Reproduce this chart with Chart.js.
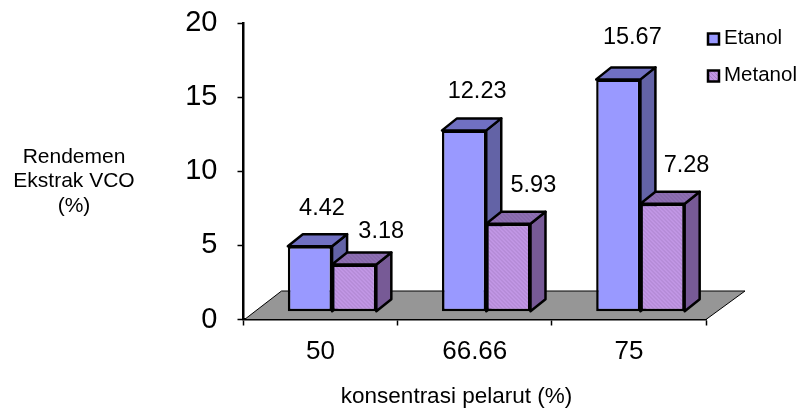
<!DOCTYPE html>
<html>
<head>
<meta charset="utf-8">
<style>
  html, body { margin: 0; padding: 0; background: #fff; }
  canvas { display: block; }
</style>
<script src="https://cdn.jsdelivr.net/npm/chart.js@4"></script>
</head>
<body>
<canvas id="chart" width="799" height="410"></canvas>
<script>
const categories = ['50', '66.66', '75'];
const etanolValues = [4.42, 12.23, 15.67];
const metanolValues = [3.18, 5.93, 7.28];
const yAxisTitle = ['Rendemen', 'Ekstrak VCO', '(%)'];
const xAxisTitle = 'konsentrasi pelarut (%)';

const FONT = '"Liberation Sans", Arial, sans-serif';

// Diagonal hatch used on the Metanol faces.
function hatch(base, stripe) {
  const c = document.createElement('canvas');
  c.width = c.height = 4;
  const g = c.getContext('2d');
  g.fillStyle = base;
  g.fillRect(0, 0, 4, 4);
  g.strokeStyle = stripe;
  g.lineWidth = 1;
  g.beginPath();
  g.moveTo(-1, 1); g.lineTo(3, 5);
  g.moveTo(1, -1); g.lineTo(5, 3);
  g.stroke();
  return g.createPattern(c, 'repeat');
}

const metanolFront = hatch('#C297E6', '#A87FC8');
const metanolTop = hatch('#8F70B4', '#7C5F9E');

// Extruded faces: the front rectangle sits in the middle of the floor's depth.
const shift = { x: 11.5, y: -7.8 };
const depth = { x: 15, y: -12 };
const faces = [
  { side: '#6363A6', top: '#7070C2' },
  { side: '#775A96', top: metanolTop }
];
// Data label placement relative to the top centre of each front face.
const labelOffsets = [
  [[12, -38], [13, -39], [14, -42]],
  [[27, -33], [25, -38], [24, -38]]
];

function poly(ctx, pts, fill) {
  ctx.beginPath();
  pts.forEach((p, i) => i ? ctx.lineTo(p[0], p[1]) : ctx.moveTo(p[0], p[1]));
  ctx.closePath();
  ctx.fillStyle = fill;
  ctx.fill();
  ctx.stroke();
}

const bars3d = {
  id: 'bars3d',
  beforeDatasetsDraw(chart) {
    const { ctx, chartArea: a } = chart;
    ctx.save();
    ctx.strokeStyle = '#000';
    ctx.lineWidth = 1;
    const back = a.bottom - 28.5;
    poly(ctx, [[a.left + 1, a.bottom], [a.left + 38, back], [a.right + 39, back], [a.right, a.bottom]], '#969696');

    // Side and top faces, Etanol first so Metanol overlaps its side wall.
    ctx.lineWidth = 2.5;
    ctx.lineJoin = 'round';
    ctx.translate(shift.x, shift.y);
    chart.data.datasets.forEach((ds, i) => {
      const f = faces[i];
      chart.getDatasetMeta(i).data.forEach(el => {
        const { x, y, width, base } = el.getProps(['x', 'y', 'width', 'base'], true);
        const l = x - width / 2, r = x + width / 2;
        poly(ctx, [[r, y], [r + depth.x, y + depth.y], [r + depth.x, base + depth.y], [r, base]], f.side);
        poly(ctx, [[l, y], [l + depth.x, y + depth.y], [r + depth.x, y + depth.y], [r, y]], f.top);
      });
    });
    ctx.restore();
  },
  beforeDatasetDraw(chart) {
    chart.ctx.save();
    chart.ctx.translate(shift.x, shift.y);
  },
  afterDatasetDraw(chart) {
    chart.ctx.restore();
  },
  afterDatasetsDraw(chart) {
    const { ctx } = chart;
    ctx.save();
    ctx.fillStyle = '#000';
    ctx.textBaseline = 'middle';

    // Value labels above the bars.
    ctx.textAlign = 'center';
    ctx.font = '23.5px ' + FONT;
    chart.data.datasets.forEach((ds, i) => {
      chart.getDatasetMeta(i).data.forEach((el, j) => {
        const o = labelOffsets[i][j];
        ctx.fillText(ds.data[j].toFixed(2), el.x + shift.x + o[0], el.y + shift.y + o[1]);
      });
    });

    // Axis titles: the value-axis title is set horizontally on three lines.
    ctx.textBaseline = 'alphabetic';
    ctx.font = '21px ' + FONT;
    yAxisTitle.forEach((line, i) => ctx.fillText(line, 74, 162.5 + i * 24.5));
    ctx.font = '22.5px ' + FONT;
    ctx.fillText(xAxisTitle, 456.5, 403);

    // Legend swatches and names.
    ctx.textBaseline = 'middle';
    ctx.textAlign = 'left';
    ctx.font = '20.5px ' + FONT;
    chart.data.datasets.forEach((ds, i) => {
      const top = 33.5 + i * 37;
      ctx.fillStyle = ds.backgroundColor;
      ctx.fillRect(708, top, 11, 11);
      ctx.strokeStyle = '#000';
      ctx.lineWidth = 2.5;
      ctx.strokeRect(708, top, 11, 11);
      ctx.fillStyle = '#000';
      ctx.fillText(ds.label, 724, top + 5);
    });
    ctx.restore();
  }
};

new Chart(document.getElementById('chart'), {
  type: 'bar',
  data: {
    labels: categories,
    datasets: [
      { label: 'Etanol', data: etanolValues, backgroundColor: '#9999FF' },
      { label: 'Metanol', data: metanolValues, backgroundColor: metanolFront }
    ]
  },
  plugins: [bars3d],
  options: {
    responsive: false,
    animation: false,
    events: [],
    layout: { padding: { top: 23, right: 93, left: 0, bottom: 0 } },
    categoryPercentage: 0.574,
    barPercentage: 1,
    elements: { bar: { borderColor: '#000', borderWidth: 2.5, borderSkipped: false } },
    plugins: { legend: { display: false }, tooltip: { enabled: false } },
    scales: {
      x: {
        offset: true,
        afterFit(s) { s.height = 90.5; },
        border: { color: '#000', width: 2.5 },
        grid: { offset: true, drawOnChartArea: false, drawTicks: true, tickLength: 6, tickColor: '#000', tickWidth: 1.5 },
        ticks: { color: '#000', font: { family: FONT, size: 26 }, padding: 11, maxRotation: 0 }
      },
      y: {
        min: 0,
        max: 20,
        afterFit(s) { s.width = 243.5; s.paddingTop = 0; s.paddingBottom = 0; },
        border: { color: '#000', width: 2.5 },
        grid: { drawOnChartArea: false, drawTicks: true, tickLength: 6, tickColor: '#000', tickWidth: 1.5 },
        ticks: { stepSize: 5, color: '#000', font: { family: FONT, size: 29 }, padding: 20 }
      }
    }
  }
});
</script>
</body>
</html>
